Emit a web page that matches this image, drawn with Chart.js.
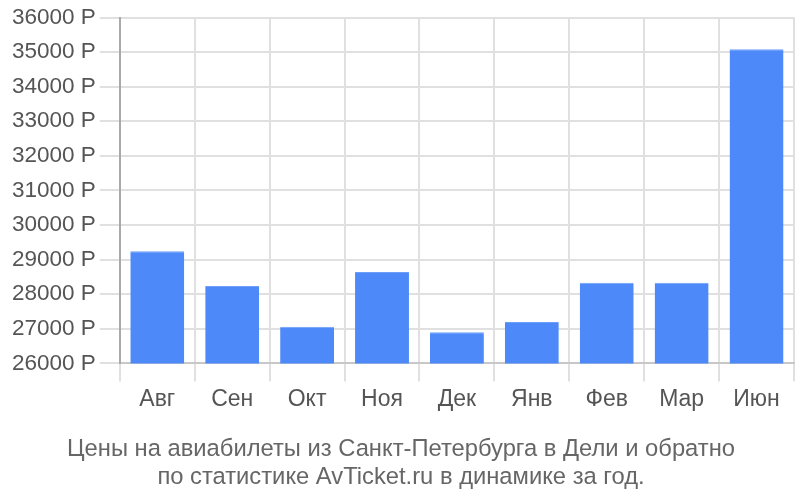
<!DOCTYPE html>
<html>
<head>
<meta charset="utf-8">
<script src="https://cdn.jsdelivr.net/npm/chart.js@4/dist/chart.umd.min.js"></script>
<style>
  html, body { margin: 0; padding: 0; background: #fff; }
  #wrap { width: 800px; height: 500px; }
</style>
</head>
<body>
<div id="wrap"><canvas id="grafica"></canvas></div>
<script>
const meses = ["Авг", "Сен", "Окт", "Ноя", "Дек", "Янв", "Фев", "Мар", "Июн"];
const precios = [29240, 28240, 27060, 28640, 26900, 27200, 28330, 28330, 35080];
const tituloLineas = [
  "Цены на авиабилеты из Санкт-Петербурга в Дели и обратно",
  "по статистике AvTicket.ru в динамике за год."
];

Chart.defaults.font.family = "'Liberation Sans', Arial, sans-serif";

new Chart(document.getElementById("grafica"), {
  type: "bar",
  data: {
    labels: meses,
    datasets: [{
      data: precios,
      backgroundColor: "#4d89f9",
      borderColor: "#6d9ffa",
      borderWidth: { top: 1, left: 0, right: 0, bottom: 0 },
      borderSkipped: "bottom"
    }]
  },
  options: {
    responsive: true,
    maintainAspectRatio: false,
    animation: false,
    layout: { padding: { top: 0, right: 6, left: 8, bottom: 8 } },
    plugins: {
      legend: { display: false },
      tooltip: { enabled: false },
      title: {
        display: true,
        position: "bottom",
        text: tituloLineas,
        color: "#666",
        font: { size: 23.75, weight: "normal" },
        padding: { top: 18, bottom: 0 },
        lineHeight: 1.24
      }
    },
    scales: {
      x: {
        grid: { color: "#e0e0e0", lineWidth: 2, tickLength: 18, offset: true },
        border: { color: "#c8c8c8", width: 2 },
        ticks: { color: "#555", font: { size: 23 }, padding: 4 }
      },
      y: {
        min: 26000,
        max: 36000,
        grid: { color: "#e0e0e0", lineWidth: 2, tickLength: 20 },
        border: { color: "#aaa", width: 2 },
        ticks: {
          stepSize: 1000,
          color: "#555",
          font: { size: 22.5 },
          padding: 4,
          callback: v => v + " Р"
        }
      }
    }
  }
});
</script>
</body>
</html>
